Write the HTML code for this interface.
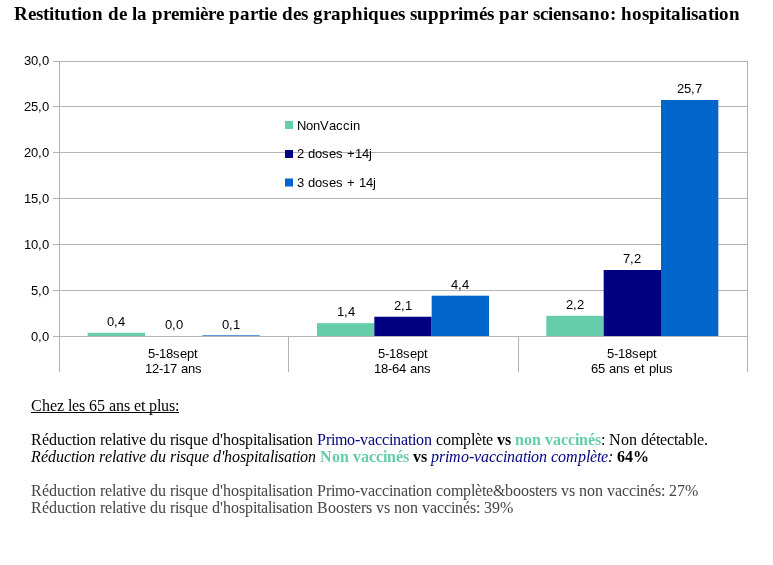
<!DOCTYPE html>
<html lang="fr"><head><meta charset="utf-8"><title>Restitution de la première partie des graphiques supprimés par sciensano: hospitalisation</title>
<style>
html,body{margin:0;padding:0;background:#fff;width:773px;height:565px;overflow:hidden}
svg{display:block;will-change:transform}
text{white-space:pre}
</style></head><body>
<svg width="773" height="565" viewBox="0 0 773 565">
<g stroke="#b3b3b3" stroke-width="1" fill="none" shape-rendering="crispEdges">
<path d="M53 61.5H748"/>
<path d="M53 106.5H748"/>
<path d="M53 152.5H748"/>
<path d="M53 198.5H748"/>
<path d="M53 244.5H748"/>
<path d="M53 290.5H748"/>
<path d="M53 336.5H748"/>
<path d="M59.5 61V372M747.5 61V372M288.5 336V372M518.5 336V372"/>
</g>
<rect x="87.67" y="332.8" width="57.33" height="3.2" fill="#66cdaa"/>
<rect x="202.33" y="335" width="57.33" height="1" fill="#0066cc" fill-opacity="0.65"/>
<rect x="317.00" y="323.17" width="57.33" height="12.83" fill="#66cdaa"/>
<rect x="374.33" y="316.75" width="57.33" height="19.25" fill="#000080"/>
<rect x="431.67" y="295.67" width="57.33" height="40.33" fill="#0066cc"/>
<rect x="546.33" y="315.83" width="57.33" height="20.17" fill="#66cdaa"/>
<rect x="603.67" y="270.00" width="57.33" height="66.00" fill="#000080"/>
<rect x="661.00" y="100" width="57.33" height="236" fill="#0066cc"/>
<rect x="285" y="121" width="8" height="8" fill="#66cdaa"/>
<rect x="285" y="150" width="8" height="8" fill="#000080"/>
<rect x="285" y="178.5" width="8" height="8" fill="#0066cc"/>
<g font-family="'Liberation Sans', Arial, sans-serif" font-size="13" fill="#000">
<text y="326"><tspan x="107 114 118" >0,4</tspan></text>
<text y="329"><tspan x="165 172 176" >0,0</tspan></text>
<text y="329"><tspan x="222 229 233" >0,1</tspan></text>
<text y="316"><tspan x="337 344 348" >1,4</tspan></text>
<text y="310"><tspan x="394 401 405" >2,1</tspan></text>
<text y="289"><tspan x="451 458 462" >4,4</tspan></text>
<text y="309"><tspan x="566 573 577" >2,2</tspan></text>
<text y="263"><tspan x="623 630 634" >7,2</tspan></text>
<text y="93"><tspan x="677 684 691 695" >25,7</tspan></text>
<text y="65"><tspan x="24 31 38 42" >30,0</tspan></text>
<text y="111"><tspan x="24 31 38 42" >25,0</tspan></text>
<text y="157"><tspan x="24 31 38 42" >20,0</tspan></text>
<text y="203"><tspan x="24 31 38 42" >15,0</tspan></text>
<text y="249"><tspan x="24 31 38 42" >10,0</tspan></text>
<text y="295"><tspan x="31 38 42" >5,0</tspan></text>
<text y="341"><tspan x="31 38 42" >0,0</tspan></text>
<text y="358"><tspan x="148 155 159 166 173 180 187 194" >5-18sept</tspan></text>
<text y="373"><tspan x="145 152 159 163 170 177 181 188 195" >12-17 ans</tspan></text>
<text y="358"><tspan x="378 385 389 396 403 410 417 424" >5-18sept</tspan></text>
<text y="373"><tspan x="374 381 388 392 399 406 410 417 424" >18-64 ans</tspan></text>
<text y="358"><tspan x="607 614 618 625 632 639 646 653" >5-18sept</tspan></text>
<text y="373"><tspan x="591 598 605 609 616 623 630 634 641 645 649 656 659 666" >65 ans et plus</tspan></text>
<text y="130"><tspan x="297 306 313 320 329 336 343 350 353" >NonVaccin</tspan></text>
<text y="158"><tspan x="297 304 308 315 322 329 336 343 347 355 362 369" >2 doses +14j</tspan></text>
<text y="187"><tspan x="297 304 308 315 322 329 336 343 347 355 359 366 373" >3 doses + 14j</tspan></text>
</g>
<g font-family="'Liberation Serif', 'Times New Roman', serif" fill="#000">
<text y="20" font-size="19" font-weight="bold"><tspan x="14 28 36 43 49 54 60 71 77 82 92 103 108 119 127 132 137 147 152 163 171 179 195 200 208 216 224 229 240 250 258 264 269 277 282 293 301 308 313 323 331 341 352 363 368 379 390 398 405 410 417 428 439 450 458 463 479 487 494 499 510 520 528 533 540 548 553 561 572 579 589 600 610 616 621 632 642 649 660 665 671 681 686 691 698 708 714 719 729" font-weight="bold">Restitution de la première partie des graphiques supprimés par sciensano: hospitalisation</tspan></text>
<g font-size="16">
<text y="411"><tspan x="31 42 50 57 64 68 72 79 85 89 97 105 109 116 124 130 134 141 145 149 157 161 169 175" >Chez les 65 ans et plus:</tspan></text>
<rect x="31" y="412" width="148" height="1" fill="#000"/>
<text y="445"><tspan x="31 42 49 57 65 72 76 80 88 96 100 105 112 116 123 127 131 139 146 150 158 166 170 175 179 185 193 201 208 212 220 223 231 239 245 253 257 261 268 272 276 282 289 293 297 305 313" >Réduction relative du risque d'hospitalisation </tspan><tspan x="317 326 331 335 347 355 360 368 375 382 389 393 401 408 412 416 424" fill="#000080">Primo-vaccination</tspan><tspan x="432 436 443 451 463 471 475 482 486 493" > complète </tspan><tspan x="497 505" font-weight="bold">vs</tspan><tspan x="511" > </tspan><tspan x="515 524 532 541 545 553 561 568 575 579 588 595" font-weight="bold" fill="#66cdaa">non vaccinés</tspan><tspan x="601 605 609 621 629 637 641 649 656 660 667 674 678 685 693 697 704" >: Non détectable.</tspan></text>
<text y="462"><tspan x="31 41 48 56 64 71 75 79 87 95 99 105 112 116 124 128 132 139 146 150 158 166 170 176 180 186 194 202 209 213 221 224 232 240 246 254 258 262 270 274 278 284 292 296 300 308 316" font-style="italic">Réduction relative du risque d'hospitalisation </tspan><tspan x="320 332 340 349 353 361 369 376 383 387 396 403" font-weight="bold" fill="#66cdaa">Non vaccinés</tspan><tspan x="409 413 421 427" font-weight="bold"> vs </tspan><tspan x="431 439 445 449 461 469 474 481 489 496 503 507 515 523 527 531 539 547 551 558 566 578 586 590 597 601" font-style="italic" fill="#000080">primo-vaccination complète</tspan><tspan x="608" font-style="italic">:</tspan><tspan x="613" > </tspan><tspan x="617 625 633" font-weight="bold">64%</tspan></text>
<text y="496"><tspan x="31 42 49 57 65 72 76 80 88 96 100 105 112 116 123 127 131 139 146 150 158 166 170 175 179 185 193 201 208 212 220 223 231 239 245 253 257 261 268 272 276 282 289 293 297 305 313 317 326 331 335 347 355 360 368 375 382 389 393 401 408 412 416 424 432 436 443 451 463 471 475 482 486 493 505 513 521 529 535 539 546 551 557 561 569 575 579 587 595 603 607 615 622 629 636 640 648 655 661 665 669 677 685" fill="#444444">Réduction relative du risque d'hospitalisation Primo-vaccination complète&amp;boosters vs non vaccinés: 27%</tspan></text>
<text y="513"><tspan x="31 42 49 57 65 72 76 80 88 96 100 105 112 116 123 127 131 139 146 150 158 166 170 175 179 185 193 201 208 212 220 223 231 239 245 253 257 261 268 272 276 282 289 293 297 305 313 317 328 336 344 350 354 361 366 372 376 384 390 394 402 410 418 422 430 437 444 451 455 463 470 476 480 484 492 500" fill="#444444">Réduction relative du risque d'hospitalisation Boosters vs non vaccinés: 39%</tspan></text>
</g></g>
</svg>
</body></html>
